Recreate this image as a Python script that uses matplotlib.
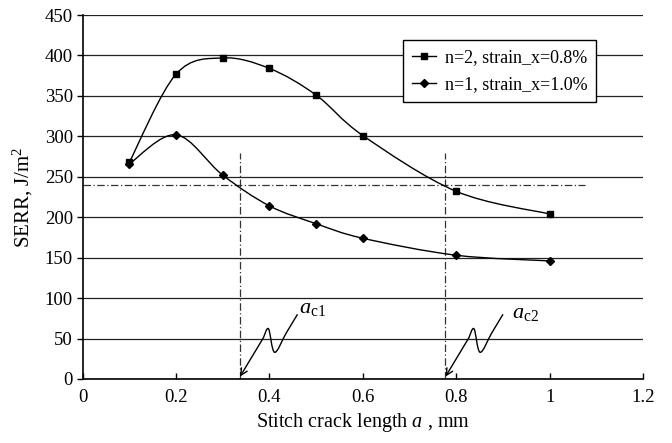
import matplotlib
matplotlib.use("Agg")
import matplotlib.pyplot as plt
from matplotlib.path import Path
from matplotlib.patches import PathPatch
from matplotlib.lines import Line2D
import numpy as np

plt.rcParams['font.family'] = ['Liberation Serif', 'DejaVu Serif']
plt.rcParams['mathtext.fontset'] = 'custom'
plt.rcParams['mathtext.it'] = 'Liberation Serif:italic'
plt.rcParams['mathtext.rm'] = 'Liberation Serif'

# data
crack_len = [0.1, 0.2, 0.3, 0.4, 0.5, 0.6, 0.8, 1.0]
serr_n2 = [268, 377, 397, 384, 351, 301, 232, 204]
serr_n1 = [266, 302, 252, 214, 192, 174, 153, 146]
labels = ["n=2, strain_x=0.8%", "n=1, strain_x=1.0%"]

critical_serr = 240
ac1 = 0.336
ac2 = 0.776

x_ticks = [0, 0.2, 0.4, 0.6, 0.8, 1, 1.2]
y_ticks = list(range(0, 451, 50))


def smooth_path(xs, ys):
    # Excel-style smoothed line: Catmull-Rom converted to cubic Bezier segments
    pts = np.column_stack([xs, ys]).astype(float)
    n = len(pts)
    verts = [pts[0]]
    codes = [Path.MOVETO]
    for i in range(n - 1):
        p0 = pts[i - 1] if i > 0 else pts[i]
        p1 = pts[i]
        p2 = pts[i + 1]
        p3 = pts[i + 2] if i + 2 < n else pts[i + 1]
        c1 = p1 + (p2 - p0) / 6.0
        c2 = p2 - (p3 - p1) / 6.0
        verts += [c1, c2, p2]
        codes += [Path.CURVE4] * 3
    return Path(verts, codes)


fig = plt.figure(figsize=(6.72, 4.43), dpi=100)
ax = fig.add_axes([0.123, 0.1445, 0.834, 0.8215])

for y in y_ticks:
    ax.axhline(y, color='#222222', lw=0.9, zorder=1)

for ys, mk, ms in [(serr_n2, 's', 5), (serr_n1, 'D', 4)]:
    ax.add_patch(PathPatch(smooth_path(crack_len, ys), fill=False, lw=1.0,
                           edgecolor='black', zorder=3))
    ax.plot(crack_len, ys, linestyle='none', marker=mk, ms=ms, color='black', zorder=4)

# critical SERR and critical crack lengths
ax.plot([0, 1.076], [critical_serr, critical_serr], color='#333333', lw=0.9,
        linestyle=(0, (6, 2, 1, 2)), zorder=2)
for xc in [ac1, ac2]:
    ax.plot([xc, xc], [0, 280], color='#333333', lw=0.9,
            linestyle=(0, (6, 2, 1, 2)), zorder=2)


def squiggle(xc, lbl, lbl_x, lbl_y):
    # leader with a wave, ending in an arrow at the crack length on the axis
    tip = (xc + 0.001, 3)
    wave_x = [xc + 0.124, xc + 0.100, xc + 0.075, xc + 0.062, xc + 0.051]
    wave_y = [80, 57, 33, 62, 51]
    ax.add_patch(PathPatch(smooth_path(wave_x, wave_y), fill=False, lw=1.0,
                           edgecolor='black', zorder=5))
    ax.annotate("", xy=tip, xytext=(wave_x[-1], wave_y[-1]),
                arrowprops=dict(arrowstyle='->', lw=1.0, color='black',
                                shrinkA=0, shrinkB=0, mutation_scale=12),
                zorder=5)
    ax.text(lbl_x, lbl_y, lbl, fontsize=16, ha='left', va='baseline')


squiggle(ac1, r"$a_{\mathrm{c1}}$", 0.464, 82)
squiggle(ac2, r"$a_{\mathrm{c2}}$", 0.920, 75)

ax.set_xlim(0, 1.2)
ax.set_ylim(0, 450)
ax.set_xticks(x_ticks)
ax.set_xticklabels(["0", "0.2", "0.4", "0.6", "0.8", "1", "1.2"])
ax.set_yticks(y_ticks)
ax.tick_params(axis='x', direction='in', length=4, labelsize=13.5, pad=7, width=1)
ax.tick_params(axis='y', direction='out', length=4, labelsize=13.5, pad=3, width=1)

for s in ['top', 'right']:
    ax.spines[s].set_visible(False)
for s in ['left', 'bottom']:
    ax.spines[s].set_linewidth(1.2)

ax.set_xlabel(r"Stitch crack length $a$ , mm", fontsize=14.5, labelpad=4)
ax.set_ylabel(r"SERR, J/m$^2$", fontsize=15, labelpad=7)

handles = [Line2D([], [], color='black', lw=1.0, marker='s', ms=5),
           Line2D([], [], color='black', lw=1.0, marker='D', ms=4)]
leg = ax.legend(handles, labels, loc='upper left', bbox_to_anchor=(0.572, 0.931),
                fontsize=13, frameon=True, fancybox=False, framealpha=1,
                edgecolor='black', handlelength=1.3, handletextpad=0.5,
                borderpad=0.5, labelspacing=0.55, borderaxespad=0)
leg.get_frame().set_linewidth(1.0)

plt.savefig("out.png", dpi=100)
plt.close()
